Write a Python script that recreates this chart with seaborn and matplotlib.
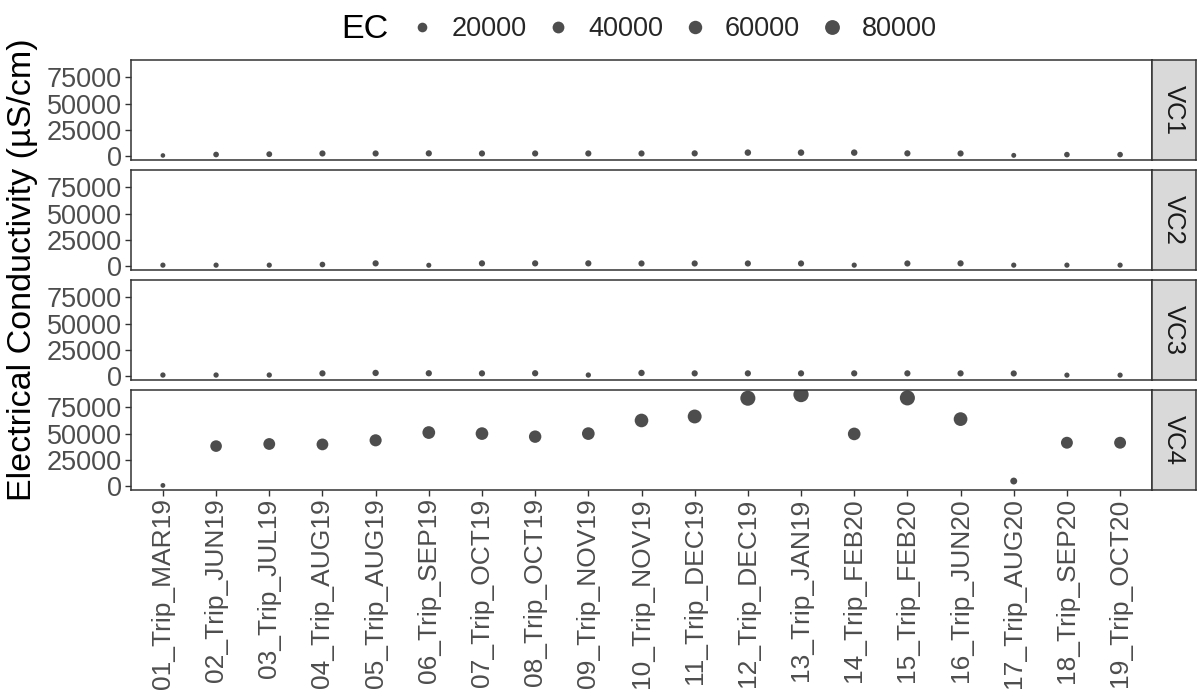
import numpy as np
import pandas as pd
import matplotlib
matplotlib.use("Agg")
import matplotlib.pyplot as plt
import seaborn as sns
from matplotlib.colors import FuncNorm
from matplotlib.lines import Line2D

# ---------------- data ----------------
trips = ["01_Trip_MAR19", "02_Trip_JUN19", "03_Trip_JUL19", "04_Trip_AUG19",
         "05_Trip_AUG19", "06_Trip_SEP19", "07_Trip_OCT19", "08_Trip_OCT19",
         "09_Trip_NOV19", "10_Trip_NOV19", "11_Trip_DEC19", "12_Trip_DEC19",
         "13_Trip_JAN19", "14_Trip_FEB20", "15_Trip_FEB20", "16_Trip_JUN20",
         "17_Trip_AUG20", "18_Trip_SEP20", "19_Trip_OCT20"]
sites = ["VC1", "VC2", "VC3", "VC4"]
ec_vc1 = [600, 1500, 1800, 2500, 2500, 2600, 2500, 2500, 2500, 2500,
          2600, 3300, 3300, 3300, 2600, 2500, 700, 1400, 1400]
ec_vc2 = [900, 900, 900, 1500, 2600, 800, 2600, 2600, 2600, 2500,
          2500, 2500, 2500, 900, 2500, 2600, 900, 900, 900]
ec_vc3 = [1000, 1000, 1000, 2600, 3000, 2700, 2600, 2700, 1000, 3000,
          2600, 2600, 2600, 2600, 2600, 2600, 2500, 900, 900]
ec_vc4 = [640, 38100, 40100, 39700, 43600, 51000, 50000, 47100, 50000, 62500,
          66300, 83700, 87200, 49700, 84000, 63800, 4800, 41300, 41300]
legend_breaks = [20000, 40000, 60000, 80000]
y_ticks = [0, 25000, 50000, 75000]

values = {"VC1": ec_vc1, "VC2": ec_vc2, "VC3": ec_vc3, "VC4": ec_vc4}
df = pd.DataFrame([(s, t, v) for s in sites for t, v in zip(trips, values[s])],
                  columns=["site", "trip", "EC"])

# ---------------- styling ----------------
sns.set_theme(style="white")
plt.rcParams["font.family"] = ["Liberation Sans", "DejaVu Sans"]

W_PX, H_PX = 1198, 699
fig = plt.figure(figsize=(W_PX / 100, H_PX / 100), dpi=100)

point_col = "#4D4D4D"
frame_col = "#333333"
text_col = "#4D4D4D"

# size scale similar to ggplot's area palette (diameter ~ sqrt of value)
vmin, vmax = df["EC"].min(), df["EC"].max()
d_min, d_max = 3.3, 11.0


def fwd(v):
    v = np.asarray(v, dtype=float)
    x = np.clip((v - vmin) / (vmax - vmin), 0, 1)
    return (d_min + (d_max - d_min) * np.sqrt(x)) ** 2


def inv(s):
    s = np.asarray(s, dtype=float)
    return vmin + ((np.sqrt(s) - d_min) / (d_max - d_min)) ** 2 * (vmax - vmin)


size_norm = FuncNorm((fwd, inv), vmin=vmin, vmax=vmax)
size_range = (d_min ** 2, d_max ** 2)

# y-limits with 5 % expansion (fixed scales)
rng = vmax - vmin
ylim = (vmin - 0.05 * rng, vmax + 0.05 * rng)

L, R = 131, 1152
strip_w = 44
panel_h = 100
tops = [60, 170, 280, 390]

for i, site in enumerate(sites):
    top = tops[i]
    ax = fig.add_axes([L / W_PX, 1 - (top + panel_h) / H_PX,
                       (R - L) / W_PX, panel_h / H_PX])
    sub = df[df["site"] == site]
    sns.scatterplot(data=sub, x="trip", y="EC", size="EC", sizes=size_range,
                    size_norm=size_norm, color=point_col, linewidth=0,
                    legend=False, ax=ax)
    ax.set_xlim(-0.6, len(trips) - 0.4)
    ax.set_ylim(*ylim)
    ax.set_yticks(y_ticks)
    ax.set_yticklabels([str(t) for t in y_ticks])
    ax.set_xlabel("")
    ax.set_ylabel("")
    ax.set_facecolor("white")
    for sp in ax.spines.values():
        sp.set_visible(True)
        sp.set_color(frame_col)
        sp.set_linewidth(1.1)
    ax.tick_params(axis="y", which="both", left=True, length=4, width=1,
                   color=frame_col, labelsize=19.5, labelcolor=text_col, pad=2.5)
    if i < len(sites) - 1:
        ax.tick_params(axis="x", bottom=False, labelbottom=False)
    else:
        ax.tick_params(axis="x", bottom=True, length=4, width=1,
                       color=frame_col, labelsize=19, labelcolor=text_col,
                       labelrotation=90, pad=2)
    ax.grid(False)

    # facet strip on the right
    sax = fig.add_axes([R / W_PX, 1 - (top + panel_h) / H_PX,
                        strip_w / W_PX, panel_h / H_PX])
    sax.set_facecolor("#D9D9D9")
    sax.set_xticks([])
    sax.set_yticks([])
    for sp in sax.spines.values():
        sp.set_visible(True)
        sp.set_color(frame_col)
        sp.set_linewidth(1.1)
    sax.text(0.5, 0.5, site, rotation=-90, ha="center", va="center",
             fontsize=18.5, color="#1A1A1A", transform=sax.transAxes)

# y-axis title
fig.text(23 / W_PX, 1 - 270 / H_PX, "Electrical Conductivity (µS/cm)",
         rotation=90, ha="center", va="center", fontsize=24.5, color="black")

# size legend at top
fig.text(341 / W_PX, 1 - 29 / H_PX, "EC", ha="left", va="center",
         fontsize=24.5, color="black")
handles = []
for b in legend_breaks:
    s = size_range[0] + (size_range[1] - size_range[0]) * float(size_norm(b))
    handles.append(Line2D([], [], linestyle="none", marker="o",
                          markersize=np.sqrt(s), markerfacecolor=point_col,
                          markeredgewidth=0))
fig.legend(handles, [str(b) for b in legend_breaks], ncol=4,
           loc="center left", bbox_to_anchor=(408 / W_PX, 1 - 29 / H_PX),
           frameon=False, fontsize=19.5, handlelength=1.0, handletextpad=0.6,
           columnspacing=0.68, borderpad=0, borderaxespad=0)

fig.savefig("out.png", dpi=100)
